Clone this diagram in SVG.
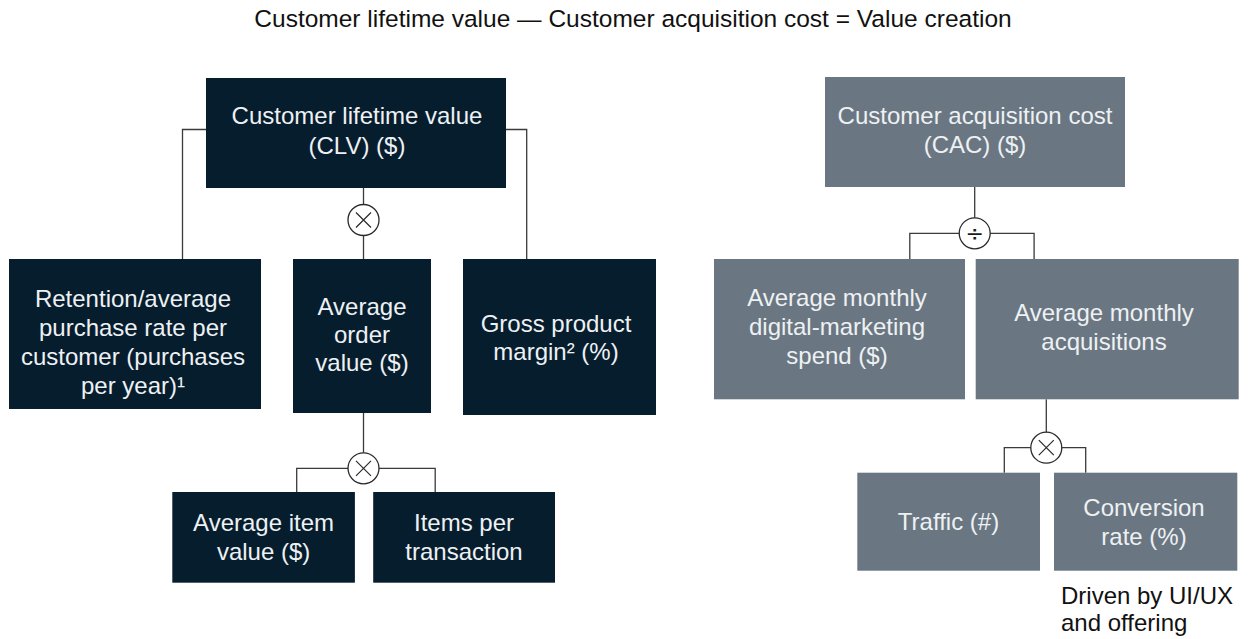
<svg xmlns="http://www.w3.org/2000/svg" width="1249" height="639" viewBox="0 0 1249 639">
  <style>
    .title { font-family: "Liberation Sans", Arial, sans-serif; font-size: 24.5px; fill: #111111; }
    .note { font-family: "Liberation Sans", Arial, sans-serif; font-size: 24px; fill: #111111; }
    .lbl { font-family: "Liberation Sans", Arial, sans-serif; font-size: 24px; fill: #EEF1F3; text-anchor: middle; }
    .dark { fill: #061D2E; }
    .grey { fill: #6A7782; }
    .wire { fill: none; stroke: #3A3A3A; stroke-width: 1.3; }
    .op { fill: #FFFFFF; stroke: #2A2A2A; stroke-width: 1.3; }
    .opx { stroke: #2A2A2A; stroke-width: 1.2; }
    .opsym { font-family: "DejaVu Sans", sans-serif; font-size: 22px; fill: #1A1A1A; text-anchor: middle; }
  </style>

  <!-- heading formula -->
  <text class="title" x="633" y="27" text-anchor="middle">Customer lifetime value — Customer acquisition cost = Value creation</text>

  <!-- connectors -->
  <g id="connectors">
    <path class="wire" d="M206,129.5 H182.5 V259"/>
    <path class="wire" d="M505.7,129.5 H526.7 V259"/>
    <path class="wire" d="M363.5,188 V259"/>
    <path class="wire" d="M363.5,413 V468.3"/>
    <path class="wire" d="M296.7,492 V468.3 H435.2 V492"/>
    <path class="wire" d="M974.7,187 V233.3"/>
    <path class="wire" d="M909.8,259 V233.3 H1034.1 V259"/>
    <path class="wire" d="M1046.3,399.3 V447.7"/>
    <path class="wire" d="M1004.3,472.7 V447.7 H1085.7 V472.7"/>
  </g>

  <!-- operators -->
  <g id="op-clv">
    <circle class="op" cx="363.5" cy="220" r="15.5"/>
    <path class="opx" d="M356,212.5 L371,227.5 M371,212.5 L356,227.5"/>
  </g>
  <g id="op-aov">
    <circle class="op" cx="363.5" cy="468.3" r="15.5"/>
    <path class="opx" d="M356,460.8 L371,475.8 M371,460.8 L356,475.8"/>
  </g>
  <g id="op-cac">
    <circle class="op" cx="974.7" cy="233.3" r="15.5"/>
    <text class="opsym" x="974.7" y="241">÷</text>
  </g>
  <g id="op-acq">
    <circle class="op" cx="1046.3" cy="447.7" r="15.5"/>
    <path class="opx" d="M1038.8,440.2 L1053.8,455.2 M1053.8,440.2 L1038.8,455.2"/>
  </g>

  <!-- customer lifetime value tree -->
  <g id="clv">
    <rect class="dark" x="206" y="78" width="300" height="110"/>
    <text class="lbl" x="357" y="123.5">Customer lifetime value</text>
    <text class="lbl" x="357" y="153.5">(CLV) ($)</text>
  </g>
  <g id="retention">
    <rect class="dark" x="9" y="259" width="252" height="150"/>
    <text class="lbl" x="133" y="307">Retention/average</text>
    <text class="lbl" x="133" y="336">purchase rate per</text>
    <text class="lbl" x="133" y="365">customer (purchases</text>
    <text class="lbl" x="133" y="394">per year)¹</text>
  </g>
  <g id="order-value">
    <rect class="dark" x="293" y="259" width="138" height="154"/>
    <text class="lbl" x="362" y="315">Average</text>
    <text class="lbl" x="362" y="343">order</text>
    <text class="lbl" x="362" y="371">value ($)</text>
  </g>
  <g id="gross-margin">
    <rect class="dark" x="463" y="259" width="193" height="156"/>
    <text class="lbl" x="556" y="331.5">Gross product</text>
    <text class="lbl" x="556" y="360">margin² (%)</text>
  </g>
  <g id="item-value">
    <rect class="dark" x="172.3" y="492" width="182.6" height="90.7"/>
    <text class="lbl" x="263.6" y="531">Average item</text>
    <text class="lbl" x="263.6" y="560">value ($)</text>
  </g>
  <g id="items-per-transaction">
    <rect class="dark" x="373.2" y="492" width="181.8" height="90.7"/>
    <text class="lbl" x="464" y="531">Items per</text>
    <text class="lbl" x="464" y="560">transaction</text>
  </g>

  <!-- customer acquisition cost tree -->
  <g id="cac">
    <rect class="grey" x="825" y="77" width="300" height="110"/>
    <text class="lbl" x="975" y="123.5">Customer acquisition cost</text>
    <text class="lbl" x="975" y="153">(CAC) ($)</text>
  </g>
  <g id="marketing-spend">
    <rect class="grey" x="714" y="259" width="251" height="140.3"/>
    <text class="lbl" x="837" y="306">Average monthly</text>
    <text class="lbl" x="837" y="335">digital-marketing</text>
    <text class="lbl" x="837" y="364">spend ($)</text>
  </g>
  <g id="acquisitions">
    <rect class="grey" x="975.7" y="259" width="263" height="140.3"/>
    <text class="lbl" x="1104" y="321">Average monthly</text>
    <text class="lbl" x="1104" y="350">acquisitions</text>
  </g>
  <g id="traffic">
    <rect class="grey" x="857.3" y="472.7" width="182.7" height="98"/>
    <text class="lbl" x="948.5" y="530">Traffic (#)</text>
  </g>
  <g id="conversion">
    <rect class="grey" x="1054" y="472.7" width="183.3" height="98"/>
    <text class="lbl" x="1144" y="516">Conversion</text>
    <text class="lbl" x="1144" y="545">rate (%)</text>
  </g>

  <!-- annotation under conversion rate -->
  <g id="conversion-note">
    <text class="note" x="1061" y="604">Driven by UI/UX</text>
    <text class="note" x="1061" y="631">and offering</text>
  </g>
</svg>
